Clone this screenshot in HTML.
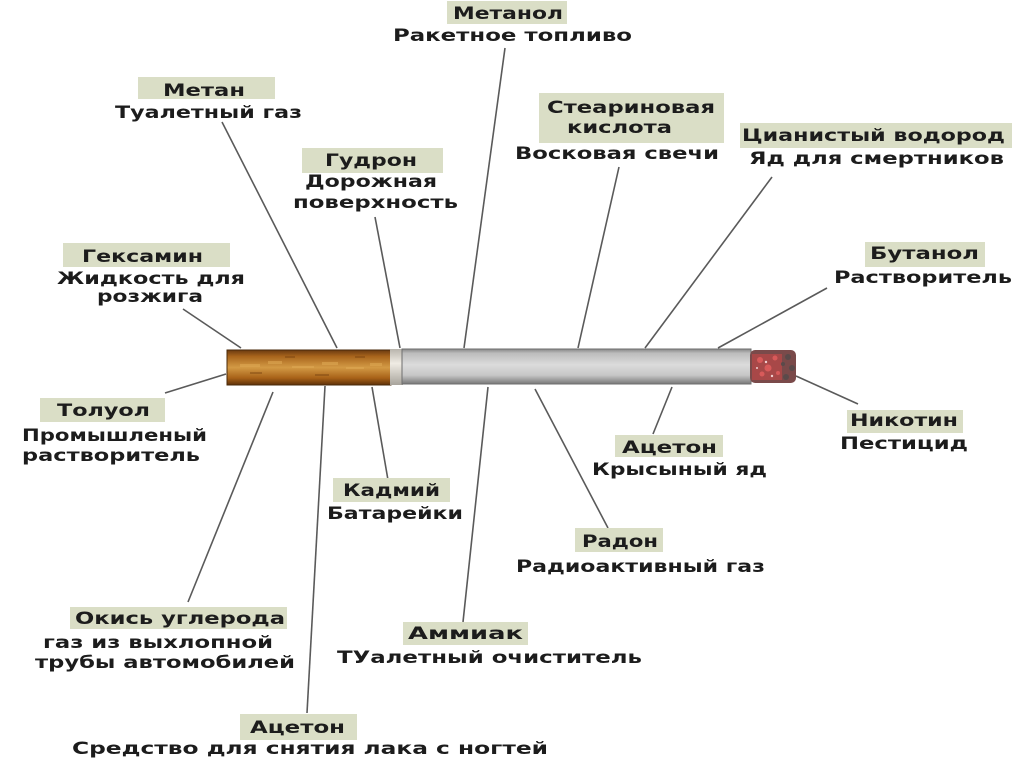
<!DOCTYPE html>
<html>
<head>
<meta charset="utf-8">
<style>
  html,body{margin:0;padding:0;background:#fff;}
  svg{display:block;}
  text{font-family:"DejaVu Sans","Liberation Sans",sans-serif;font-weight:bold;font-size:17px;fill:#1c1c1c;}
  .box{fill:#dadec6;}
  .ln{stroke:#5a5a5a;stroke-width:1.6;fill:none;}
</style>
</head>
<body>
<svg width="1024" height="767" viewBox="0 0 1024 767" xmlns="http://www.w3.org/2000/svg">
  <defs>
    <linearGradient id="filt" x1="0" y1="0" x2="0" y2="1">
      <stop offset="0" stop-color="#6a3a10"/>
      <stop offset="0.18" stop-color="#a8641c"/>
      <stop offset="0.5" stop-color="#d39a45"/>
      <stop offset="0.8" stop-color="#a86218"/>
      <stop offset="1" stop-color="#5e3008"/>
    </linearGradient>
    <linearGradient id="body" x1="0" y1="0" x2="0" y2="1">
      <stop offset="0" stop-color="#868686"/>
      <stop offset="0.12" stop-color="#bcbcbc"/>
      <stop offset="0.45" stop-color="#dcdcdc"/>
      <stop offset="0.75" stop-color="#c6c6c6"/>
      <stop offset="1" stop-color="#787878"/>
    </linearGradient>
    <linearGradient id="band" x1="0" y1="0" x2="0" y2="1">
      <stop offset="0" stop-color="#b8b4ac"/>
      <stop offset="0.4" stop-color="#f0ece4"/>
      <stop offset="1" stop-color="#a8a49c"/>
    </linearGradient>
  </defs>

  <!-- connector lines -->
  <line class="ln" x1="505" y1="48" x2="464" y2="348"/>
  <line class="ln" x1="222" y1="122" x2="337" y2="348"/>
  <line class="ln" x1="375" y1="217" x2="400" y2="348"/>
  <line class="ln" x1="183" y1="309" x2="241" y2="348"/>
  <line class="ln" x1="619" y1="167" x2="578" y2="348"/>
  <line class="ln" x1="772" y1="177" x2="645" y2="348"/>
  <line class="ln" x1="827" y1="288" x2="718" y2="348"/>
  <line class="ln" x1="165" y1="393" x2="226" y2="374"/>
  <line class="ln" x1="796" y1="376" x2="858" y2="404"/>
  <line class="ln" x1="653" y1="434" x2="672" y2="387"/>
  <line class="ln" x1="608" y1="528" x2="535" y2="389"/>
  <line class="ln" x1="463" y1="622" x2="488" y2="387"/>
  <line class="ln" x1="388" y1="480" x2="372" y2="387"/>
  <line class="ln" x1="188" y1="602" x2="273" y2="392"/>
  <line class="ln" x1="307" y1="713" x2="325" y2="386"/>

  <!-- cigarette -->
  <rect x="227" y="350" width="164" height="35" fill="url(#filt)" stroke="#4a2a0a" stroke-width="1"/>
  <g fill="#e0aa55" opacity="0.55">
    <rect x="240" y="364" width="20" height="3"/>
    <rect x="268" y="361" width="14" height="3"/>
    <rect x="292" y="366" width="22" height="2"/>
    <rect x="322" y="362" width="16" height="3"/>
    <rect x="346" y="367" width="18" height="2"/>
    <rect x="370" y="363" width="12" height="3"/>
  </g>
  <g fill="#7a4410" opacity="0.45">
    <rect x="250" y="372" width="12" height="2"/>
    <rect x="285" y="356" width="10" height="2"/>
    <rect x="315" y="374" width="14" height="2"/>
    <rect x="355" y="356" width="10" height="2"/>
  </g>
  <rect x="390" y="349" width="13" height="36" fill="url(#band)"/>
  <rect x="402" y="349" width="349" height="35" fill="url(#body)" stroke="#6e6e6e" stroke-width="1"/>
  <!-- burning tip -->
  <rect x="750" y="350" width="46" height="33" rx="5" fill="#7a4a4a"/>
  <rect x="752" y="354" width="30" height="26" fill="#a84848"/>
  <g fill="#d85a5a">
    <circle cx="760" cy="360" r="3"/>
    <circle cx="768" cy="368" r="3.5"/>
    <circle cx="775" cy="358" r="2.5"/>
    <circle cx="762" cy="374" r="2.5"/>
    <circle cx="778" cy="373" r="2"/>
  </g>
  <g fill="#5a4a4a">
    <circle cx="788" cy="357" r="3"/>
    <circle cx="792" cy="368" r="3"/>
    <circle cx="786" cy="377" r="3"/>
    <circle cx="783" cy="364" r="2"/>
  </g>
  <g fill="#f0d0d0">
    <circle cx="766" cy="362" r="1.2"/>
    <circle cx="772" cy="376" r="1.2"/>
    <circle cx="757" cy="368" r="1"/>
  </g>

  <!-- label boxes -->
  <rect class="box" x="447" y="1" width="120" height="23"/>
  <rect class="box" x="138" y="77" width="137" height="22"/>
  <rect class="box" x="302" y="148" width="141" height="25"/>
  <rect class="box" x="63" y="243" width="167" height="24"/>
  <rect class="box" x="539" y="93" width="185" height="50"/>
  <rect class="box" x="740" y="123" width="272" height="25"/>
  <rect class="box" x="865" y="242" width="120" height="25"/>
  <rect class="box" x="40" y="398" width="125" height="24"/>
  <rect class="box" x="333" y="478" width="117" height="24"/>
  <rect class="box" x="70" y="607" width="217" height="22"/>
  <rect class="box" x="240" y="714" width="117" height="26"/>
  <rect class="box" x="403" y="622" width="125" height="23"/>
  <rect class="box" x="575" y="528" width="88" height="24"/>
  <rect class="box" x="615" y="435" width="108" height="22"/>
  <rect class="box" x="847" y="410" width="116" height="23"/>

  <!-- labels -->
  <text x="453" y="19" textLength="110" lengthAdjust="spacingAndGlyphs">Метанол</text>
  <text x="393" y="41" textLength="239" lengthAdjust="spacingAndGlyphs">Ракетное топливо</text>

  <text x="163" y="96" textLength="82" lengthAdjust="spacingAndGlyphs">Метан</text>
  <text x="115" y="118" textLength="187" lengthAdjust="spacingAndGlyphs">Туалетный газ</text>

  <text x="325" y="166" textLength="92" lengthAdjust="spacingAndGlyphs">Гудрон</text>
  <text x="305" y="187" textLength="132" lengthAdjust="spacingAndGlyphs">Дорожная</text>
  <text x="293" y="208" textLength="165" lengthAdjust="spacingAndGlyphs">поверхность</text>

  <text x="82" y="262" textLength="121" lengthAdjust="spacingAndGlyphs">Гексамин</text>
  <text x="57" y="284" textLength="188" lengthAdjust="spacingAndGlyphs">Жидкость для</text>
  <text x="97" y="302" textLength="106" lengthAdjust="spacingAndGlyphs">розжига</text>

  <text x="547" y="113" textLength="168" lengthAdjust="spacingAndGlyphs">Стеариновая</text>
  <text x="567" y="133" textLength="105" lengthAdjust="spacingAndGlyphs">кислота</text>
  <text x="515" y="159" textLength="204" lengthAdjust="spacingAndGlyphs">Восковая свечи</text>

  <text x="742" y="141" textLength="263" lengthAdjust="spacingAndGlyphs">Цианистый водород</text>
  <text x="749" y="164" textLength="255" lengthAdjust="spacingAndGlyphs">Яд для смертников</text>

  <text x="870" y="259" textLength="109" lengthAdjust="spacingAndGlyphs">Бутанол</text>
  <text x="834" y="283" textLength="178" lengthAdjust="spacingAndGlyphs">Растворитель</text>

  <text x="57" y="416" textLength="93" lengthAdjust="spacingAndGlyphs">Толуол</text>
  <text x="22" y="441" textLength="185" lengthAdjust="spacingAndGlyphs">Промышленый</text>
  <text x="22" y="461" textLength="178" lengthAdjust="spacingAndGlyphs">растворитель</text>

  <text x="850" y="426" textLength="108" lengthAdjust="spacingAndGlyphs">Никотин</text>
  <text x="840" y="449" textLength="128" lengthAdjust="spacingAndGlyphs">Пестицид</text>

  <text x="622" y="453" textLength="95" lengthAdjust="spacingAndGlyphs">Ацетон</text>
  <text x="592" y="475" textLength="175" lengthAdjust="spacingAndGlyphs">Крысыный яд</text>

  <text x="343" y="496" textLength="97" lengthAdjust="spacingAndGlyphs">Кадмий</text>
  <text x="327" y="519" textLength="136" lengthAdjust="spacingAndGlyphs">Батарейки</text>

  <text x="582" y="547" textLength="76" lengthAdjust="spacingAndGlyphs">Радон</text>
  <text x="516" y="572" textLength="249" lengthAdjust="spacingAndGlyphs">Радиоактивный газ</text>

  <text x="75" y="624" textLength="210" lengthAdjust="spacingAndGlyphs">Окись углерода</text>
  <text x="43" y="648" textLength="230" lengthAdjust="spacingAndGlyphs">газ из выхлопной</text>
  <text x="35" y="668" textLength="260" lengthAdjust="spacingAndGlyphs">трубы автомобилей</text>

  <text x="408" y="639" textLength="115" lengthAdjust="spacingAndGlyphs">Аммиак</text>
  <text x="337" y="663" textLength="305" lengthAdjust="spacingAndGlyphs">ТУалетный очиститель</text>

  <text x="250" y="733" textLength="95" lengthAdjust="spacingAndGlyphs">Ацетон</text>
  <text x="72" y="754" textLength="476" lengthAdjust="spacingAndGlyphs">Средство для снятия лака с ногтей</text>
</svg>
</body>
</html>
